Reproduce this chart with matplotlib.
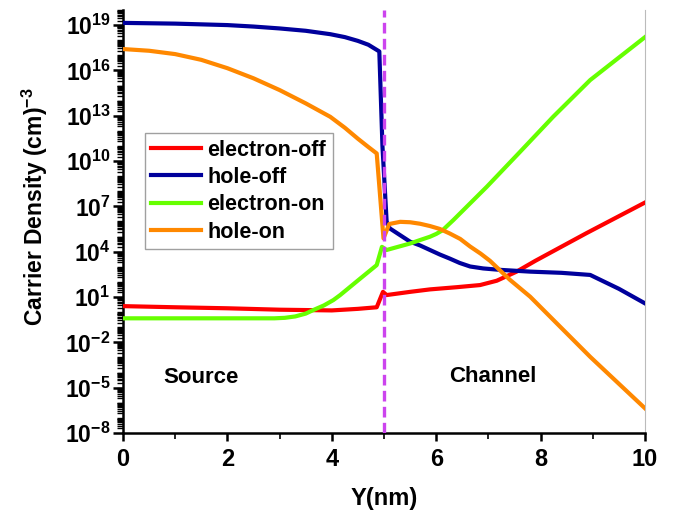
import numpy as np
import matplotlib
matplotlib.use("Agg")
import matplotlib.pyplot as plt
from matplotlib.ticker import LogLocator, FixedLocator, NullFormatter

plt.rcParams['font.family'] = ['Liberation Sans', 'DejaVu Sans']
plt.rcParams['mathtext.fontset'] = 'custom'
plt.rcParams['mathtext.rm'] = 'Liberation Sans:bold'
plt.rcParams['mathtext.bf'] = 'Liberation Sans:bold'
plt.rcParams['mathtext.it'] = 'Liberation Sans:bold'

# ---- data (Y in nm, carrier density in cm^-3) ----
x_e_off = [0, 1, 2, 3, 4, 4.5, 4.86, 4.98, 5.05, 5.5, 5.88, 6.4, 6.84, 7.16, 7.54, 7.9, 8.88, 10]
n_e_off = [2.5, 2.1, 1.8, 1.45, 1.3, 1.65, 2.1, 22, 13.5, 22, 32, 45, 62, 120, 480, 2500, 1.7e5, 1.8e7]

x_h_off = [0, 1, 2, 2.5, 3, 3.5, 3.97, 4.25, 4.5, 4.7, 4.91, 4.97, 5.05, 5.11, 5.3, 5.5, 5.69,
           5.88, 6.07, 6.26, 6.45, 6.65, 6.9, 7.22, 7.8, 8.4, 8.95, 9.5, 10]
n_h_off = [1.4e19, 1.25e19, 1.0e19, 8.0e18, 6.0e18, 4.2e18, 2.5e18, 1.6e18, 9e17, 5e17, 1.8e17,
           1e11, 1e6, 3.5e5, 1.3e5, 4.6e4, 2.6e4, 1.3e4, 6.5e3, 3.5e3, 1.8e3, 1.05e3, 7.8e2,
           6.3e2, 4.8e2, 4e2, 2.9e2, 35, 3.8]

x_e_on = [0, 1, 2, 2.9, 3.1, 3.3, 3.5, 3.65, 3.85, 4.03, 4.16, 4.5, 4.86, 4.96, 5.05, 5.5, 5.69,
          5.88, 6.0, 6.12, 6.33, 6.97, 7.61, 8.24, 8.95, 10]
n_e_on = [0.39, 0.39, 0.39, 0.39, 0.42, 0.52, 0.8, 1.4, 2.8, 6.3, 13.5, 125, 1.3e3, 2.1e4, 1.3e4,
          3.5e4, 5.9e4, 9.8e4, 1.5e5, 2.6e5, 1.26e6, 2e8, 4.2e10, 8.5e12, 2.3e15, 1.6e18]

x_h_on = [0, 0.5, 1, 1.5, 2, 2.5, 3, 3.5, 3.97, 4.25, 4.5, 4.7, 4.86, 4.99, 5.1, 5.31, 5.5,
          5.69, 5.88, 6.07, 6.26, 6.46, 6.65, 6.85, 7.03, 7.41, 7.8, 8.95, 10]
n_h_on = [2.6e17, 2.0e17, 1.2e17, 5e16, 1.4e16, 3e15, 5e14, 6.6e13, 8.5e12, 1.6e12, 3e11,
          8.5e10, 3.2e10, 7.6e4, 6.8e5, 9.5e5, 8.9e5, 7.1e5, 5e5, 3.2e5, 1.6e5, 7e4, 2.2e4,
          7.5e3, 2.5e3, 1.4e2, 10.5, 1.1e-3, 4.3e-7]

series_labels = ['electron-off', 'hole-off', 'electron-on', 'hole-on']
series_colors = ['#ff0000', '#00009c', '#66ff00', '#ff8800']

y_major = [1e-8, 1e-5, 1e-2, 1e1, 1e4, 1e7, 1e10, 1e13, 1e16, 1e19]
y_major_labels = [r'$\mathbf{10^{-8}}$', r'$\mathbf{10^{-5}}$', r'$\mathbf{10^{-2}}$',
                  r'$\mathbf{10^{1}}$', r'$\mathbf{10^{4}}$', r'$\mathbf{10^{7}}$',
                  r'$\mathbf{10^{10}}$', r'$\mathbf{10^{13}}$', r'$\mathbf{10^{16}}$',
                  r'$\mathbf{10^{19}}$']
x_major = [0, 2, 4, 6, 8, 10]
boundary_x = 5

fig = plt.figure(figsize=(6.73, 5.12), dpi=100)
ax = fig.add_axes([0.1828, 0.1543, 0.7756, 0.8262])

xs = [x_e_off, x_h_off, x_e_on, x_h_on]
ns = [n_e_off, n_h_off, n_e_on, n_h_on]
for xv, nv, lab, col in zip(xs, ns, series_labels, series_colors):
    ax.plot(xv, nv, color=col, lw=3, label=lab, solid_joinstyle='round', zorder=3)

ax.axvline(boundary_x, color='#cc44ee', lw=2.4, dashes=(3.2, 1.6), zorder=4)

ax.set_yscale('log')
ax.set_xlim(0, 10)
ax.set_ylim(1e-8, 1e20)

ax.yaxis.set_major_locator(FixedLocator(y_major))
ax.set_yticklabels(y_major_labels)
ax.yaxis.set_minor_locator(LogLocator(base=10, subs=np.arange(1, 10), numticks=100))
ax.yaxis.set_minor_formatter(NullFormatter())

ax.set_xticks(x_major)
ax.set_xticks([1, 3, 5, 7, 9], minor=True)

for s in ['left', 'bottom']:
    ax.spines[s].set_linewidth(1.8)
ax.spines['top'].set_visible(False)
ax.spines['right'].set_color('#bbbbbb')
ax.spines['right'].set_linewidth(0.8)

ax.tick_params(axis='y', which='major', direction='out', length=7, width=1.8,
               labelsize=16.5, pad=2)
ax.tick_params(axis='y', which='minor', direction='out', length=4, width=1.0)
ax.tick_params(axis='x', which='major', direction='out', length=6, width=1.8,
               labelsize=17, pad=5)
ax.tick_params(axis='x', which='minor', direction='out', length=4, width=1.2)
for t in ax.get_xticklabels():
    t.set_fontweight('bold')

ax.set_xlabel('Y(nm)', fontsize=17, fontweight='bold')
ax.xaxis.set_label_coords(0.5, -0.128)
ax.set_ylabel(r'Carrier Density (cm)$^{\mathbf{-3}}$', fontsize=16.5, fontweight='bold')
ax.yaxis.set_label_coords(-0.14, 0.535)

ax.text(0.77, 10**-4.35, 'Source', fontsize=16, fontweight='bold', va='center', ha='left')
ax.text(7.08, 10**-4.25, 'Channel', fontsize=16, fontweight='bold', va='center', ha='center')

leg = ax.legend(loc='upper left', bbox_to_anchor=(0.042, 0.709), borderaxespad=0,
                prop={'weight': 'bold', 'size': 15.5}, frameon=True,
                fancybox=False, edgecolor='#888888', handlelength=2.3, handletextpad=0.3,
                labelspacing=0.3, borderpad=0.3)
leg.get_frame().set_linewidth(1.0)

fig.savefig('out.png', dpi=100)
